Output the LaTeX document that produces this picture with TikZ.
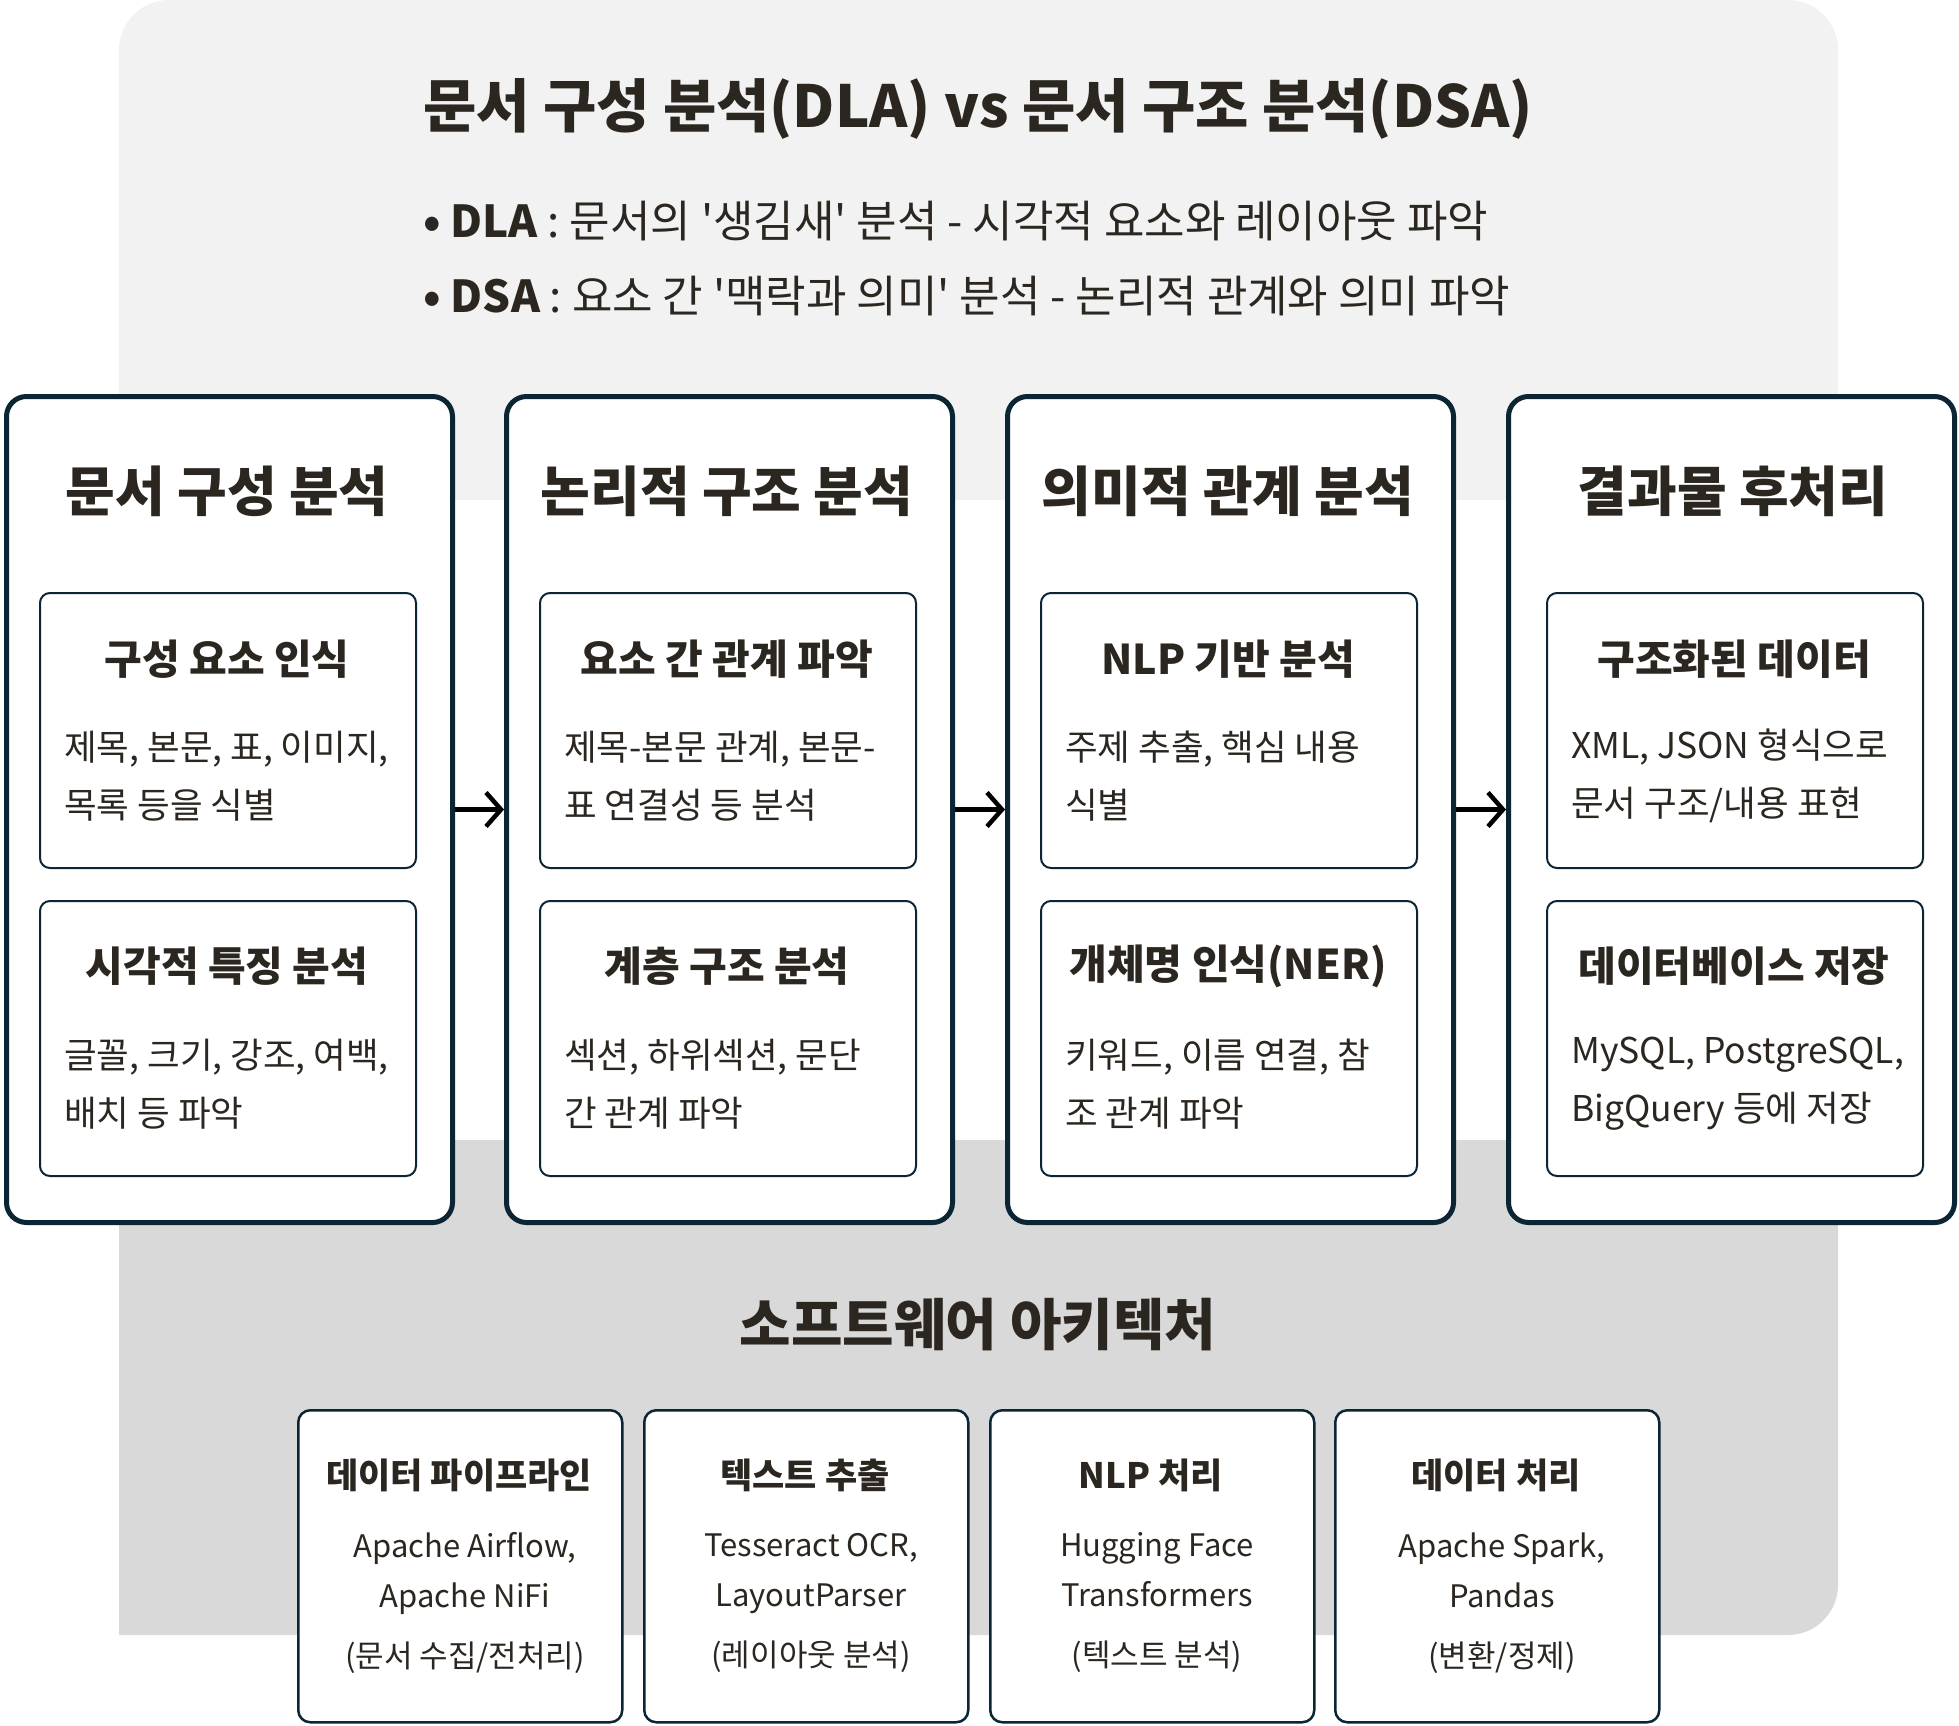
\documentclass[tikz,border=0pt]{standalone}
\usepackage{fontspec}
\setmainfont{Noto Sans CJK KR}[Ligatures=TeXOff]
\usetikzlibrary{arrows.meta}
\definecolor{ink}{HTML}{2B2620}
\definecolor{navy}{HTML}{0B2535}
\definecolor{panelA}{HTML}{F2F2F2}
\definecolor{panelB}{HTML}{D9D9D9}

\begin{document}
\begin{tikzpicture}[x=1pt,y=-1pt,join=round, % DLA vs DSA overview
    column/.style={draw=navy,line width=5pt,fill=white,rounded corners=20pt,minimum width=446pt,minimum height=826pt,inner sep=0pt,anchor=north west},
    card/.style={draw=navy,line width=2pt,fill=white,rounded corners=10pt,minimum width=376pt,minimum height=275pt,inner sep=0pt,anchor=north west},
    toolbox/.style={draw=navy,line width=2.5pt,fill=white,rounded corners=12pt,minimum width=324pt,minimum height=312pt,inner sep=0pt,anchor=north west},
    heading/.style={text=ink,font=\fontsize{54}{60}\selectfont\bfseries,inner sep=0pt},
    cardtitle/.style={text=ink,font=\fontsize{41}{48}\selectfont\bfseries,inner sep=0pt},
    cardtext/.style={text=ink,font=\fontsize{35.5}{58}\selectfont,align=left,inner sep=0pt,anchor=west},
    tooltitle/.style={text=ink,font=\fontsize{35}{42}\selectfont\bfseries,inner sep=0pt},
    tooltext/.style={text=ink,font=\fontsize{31}{50}\selectfont,align=center,inner sep=0pt},
    flow/.style={draw=black,line width=4.5pt,-{Straight Barb[length=15pt,width=34pt,line width=4.5pt]}}]
  \useasboundingbox (0,0) rectangle (1959,1726);

  % background panels
  \fill[panelA] (119,500) [rounded corners=50pt] -- (119,0) -- (1838,0) [sharp corners] -- (1838,500) -- cycle;
  \fill[panelB] (119,1140) -- (119,1635) [rounded corners=50pt] -- (1838,1635) [sharp corners] -- (1838,1140) -- cycle;

  % header
  \node[text=ink,font=\fontsize{58}{64}\selectfont\bfseries,inner sep=0pt] (title) at (978,109) {문서 구성 분석(DLA) vs 문서 구조 분석(DSA)};
  \node[text=ink,font=\fontsize{44}{50}\selectfont,inner sep=0pt,anchor=west] (dla) at (423,221) {{\bfseries • DLA} : 문서의 '생김새' 분석 - 시각적 요소와 레이아웃 파악};
  \node[text=ink,font=\fontsize{44}{50}\selectfont,inner sep=0pt,anchor=west] (dsa) at (423,296) {{\bfseries • DSA} : 요소 간 '맥락과 의미' 분석 - 논리적 관계와 의미 파악};

  % four stages
  \node[column] (col1) at (4,394) {};
  \node[column] (col2) at (504,394) {};
  \node[column] (col3) at (1005,394) {};
  \node[column] (col4) at (1506,394) {};

  \node[heading] (h1) at (227,491) {문서 구성 분석};
  \node[heading] (h2) at (727,491) {논리적 구조 분석};
  \node[heading] (h3) at (1228,491) {의미적 관계 분석};
  \node[heading] (h4) at (1733,491) {결과물 후처리};

  \node[card] (c11) at (39,592) {};
  \node[card] (c12) at (39,900) {};
  \node[card] (c21) at (539,592) {};
  \node[card] (c22) at (539,900) {};
  \node[card] (c31) at (1040,592) {};
  \node[card] (c32) at (1040,900) {};
  \node[card] (c41) at (1546,592) {};
  \node[card] (c42) at (1546,900) {};

  \node[cardtitle] (t11) at (227,659) {구성 요소 인식};
  \node[cardtext] (x11) at (64,776) {제목, 본문, 표, 이미지,\\목록 등을 식별};
  \node[cardtitle] (t12) at (227,966) {시각적 특징 분석};
  \node[cardtext] (x12) at (64,1084) {글꼴, 크기, 강조, 여백,\\배치 등 파악};

  \node[cardtitle] (t21) at (727,659) {요소 간 관계 파악};
  \node[cardtext] (x21) at (564,776) {제목-본문 관계, 본문-\\표 연결성 등 분석};
  \node[cardtitle] (t22) at (727,966) {계층 구조 분석};
  \node[cardtext] (x22) at (564,1084) {섹션, 하위섹션, 문단\\간 관계 파악};

  \node[cardtitle] (t31) at (1228,659) {NLP 기반 분석};
  \node[cardtext] (x31) at (1065,776) {주제 추출, 핵심 내용\\식별};
  \node[cardtitle] (t32) at (1228,966) {개체명 인식(NER)};
  \node[cardtext] (x32) at (1065,1084) {키워드, 이름 연결, 참\\조 관계 파악};

  \node[cardtitle] (t41) at (1734,659) {구조화된 데이터};
  \node[cardtext] (x41) at (1571,776) {XML, JSON 형식으로\\문서 구조/내용 표현};
  \node[cardtitle] (t42) at (1734,966) {데이터베이스 저장};
  \node[cardtext] (x42) at (1571,1084) {MySQL, PostgreSQL,\\BigQuery 등에 저장};

  \draw[flow] (col1.east) -- (col2.west);
  \draw[flow] (col2.east) -- (col3.west);
  \draw[flow] (col3.east) -- (col4.west);

  % software architecture
  \node[heading,font=\fontsize{56}{62}\selectfont\bfseries] (arch) at (978,1325) {소프트웨어 아키텍처};

  \node[toolbox] (b1) at (297,1409) {};
  \node[toolbox] (b2) at (643,1409) {};
  \node[toolbox] (b3) at (989,1409) {};
  \node[toolbox] (b4) at (1334,1409) {};

  \node[tooltitle] (bt1) at (459,1475) {데이터 파이프라인};
  \node[tooltext] (bx1) at (465,1603) {Apache Airflow,\\Apache NiFi\\[10pt](문서 수집/전처리)};
  \node[tooltitle] (bt2) at (805,1475) {텍스트 추출};
  \node[tooltext] (bx2) at (811,1603) {Tesseract OCR,\\LayoutParser\\[10pt](레이아웃 분석)};
  \node[tooltitle] (bt3) at (1151,1475) {NLP 처리};
  \node[tooltext] (bx3) at (1157,1603) {Hugging Face\\Transformers\\[10pt](텍스트 분석)};
  \node[tooltitle] (bt4) at (1496,1475) {데이터 처리};
  \node[tooltext] (bx4) at (1502,1603) {Apache Spark,\\Pandas\\[10pt](변환/정제)};
\end{tikzpicture}
\end{document}
